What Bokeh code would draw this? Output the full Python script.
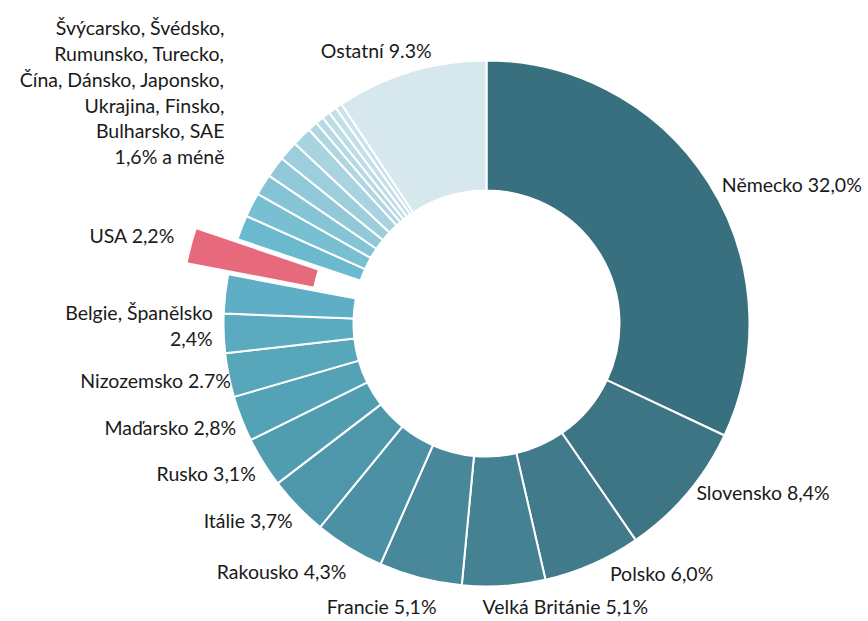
import math
from bokeh.plotting import figure
from bokeh.models import ColumnDataSource, Range1d
from bokeh.embed import file_html
from bokeh.resources import INLINE
from bokeh.core.properties import value

# ---- data ----
main_countries = ["Německo", "Slovensko", "Polsko", "Velká Británie", "Francie",
                  "Rakousko", "Itálie", "Rusko", "Maďarsko", "Nizozemsko",
                  "Španělsko", "Belgie", "USA"]
main_shares = [32.0, 8.4, 6.0, 5.1, 5.1, 4.3, 3.7, 3.1, 2.8, 2.7, 2.4, 2.4, 2.2]
small_countries = ["Švýcarsko", "Švédsko", "Rumunsko", "Turecko", "Čína", "Dánsko",
                   "Japonsko", "Ukrajina", "Finsko", "Bulharsko", "SAE"]
small_shares = [1.5, 1.5, 1.3, 1.3, 1.2, 1.2, 0.6, 0.5, 0.5, 0.5, 0.4]
other_country = ["Ostatní"]
other_share = [9.3]

label_texts = ["Německo 32,0%", "Slovensko 8,4%", "Polsko 6,0%", "Velká Británie 5,1%",
               "Francie 5,1%", "Rakousko 4,3%", "Itálie 3,7%", "Rusko 3,1%",
               "Maďarsko 2,8%", "Nizozemsko 2.7%", "Belgie, Španělsko\n2,4%", "USA 2,2%",
               "Švýcarsko, Švédsko,\nRumunsko, Turecko,\nČína, Dánsko, Japonsko,\nUkrajina, Finsko,\nBulharsko, SAE\n1,6% a méně",
               "Ostatní 9.3%"]
# which slices (index range, inclusive) each label describes
label_groups = [(0, 0), (1, 1), (2, 2), (3, 3), (4, 4), (5, 5), (6, 6), (7, 7), (8, 8),
                (9, 9), (10, 11), (12, 12), (13, 23), (24, 24)]

# ---- style / layout ----
colors = ["#39707f", "#3d7585", "#407a8b", "#448192", "#48889a", "#4b91a3", "#4e97aa",
          "#519db0", "#54a2b5", "#57a6ba", "#5aabbf", "#5eafc5", "#e76a7c",
          "#6bb9ce", "#78bfd2", "#85c4d5", "#91c9d8", "#9dcedb", "#a8d3df",
          "#b0d6e1", "#b7d9e3", "#bddce5", "#c3dfe7", "#c9e2e9", "#d6e7ee"]
exploded = {12: 43.0}
R_IN, R_OUT = 133.0, 263.0
LABEL_R = 274.0
# pixel nudges for each label (dx right, dy down)
nudges = [(4, 8), (1, -8), (13, -1), (-22, 10), (19, 18), (3, 14), (3, 6), (2, 5),
          (5, 5), (13, 3), (0, 12), (-5, -7), (-45, -64), (24, -11)]
FONT = "Lato"
FSIZE = "19.5px"

names = main_countries + small_countries + other_country
shares = main_shares + small_shares + other_share

starts, ends, xs, ys = [], [], [], []
cum = 0.0
for i, s in enumerate(shares):
    a0 = cum / 100.0 * 2 * math.pi
    a1 = (cum + s) / 100.0 * 2 * math.pi
    cum += s
    mid = (a0 + a1) / 2
    starts.append(math.pi / 2 - a0)
    ends.append(math.pi / 2 - a1)
    off = exploded.get(i, 0.0)
    xs.append(off * math.sin(mid))
    ys.append(off * math.cos(mid))

src = ColumnDataSource(dict(x=xs, y=ys, start=starts, end=ends, color=colors, name=names))

W, H = 866, 618
CX, CY = 486, 323  # centre in figure pixels
p = figure(width=W, height=H, x_range=Range1d(-CX, W - CX), y_range=Range1d(-(H - CY), CY),
           output_backend="svg", toolbar_location=None, x_axis_type=None, y_axis_type=None,
           min_border=0, outline_line_color=None)
p.xgrid.visible = False
p.ygrid.visible = False

p.annular_wedge(x="x", y="y", inner_radius=R_IN, outer_radius=R_OUT,
                start_angle="start", end_angle="end", direction="clock",
                fill_color="color", line_color="white", line_width=2, source=src)

left = dict(x=[], y=[], t=[])
right = dict(x=[], y=[], t=[])
for k, (txt, (g0, g1)) in enumerate(zip(label_texts, label_groups)):
    a0 = sum(shares[:g0]) / 100 * 2 * math.pi
    a1 = sum(shares[:g1 + 1]) / 100 * 2 * math.pi
    mid = (a0 + a1) / 2
    r = LABEL_R + max(exploded.get(j, 0.0) for j in range(g0, g1 + 1))
    lx = r * math.sin(mid) + nudges[k][0]
    ly = r * math.cos(mid) - nudges[k][1]
    d = left if math.sin(mid) >= 0 else right
    d["x"].append(lx)
    d["y"].append(ly)
    d["t"].append(txt)

for d, al in ((left, "left"), (right, "right")):
    p.text(x="x", y="y", text="t", source=ColumnDataSource(d), text_align=al,
           text_baseline="middle", text_font=value(FONT), text_font_size=FSIZE,
           text_color="#1a1a1a", text_line_height=1.12)

open("out.html", "w").write(file_html(p, INLINE))
